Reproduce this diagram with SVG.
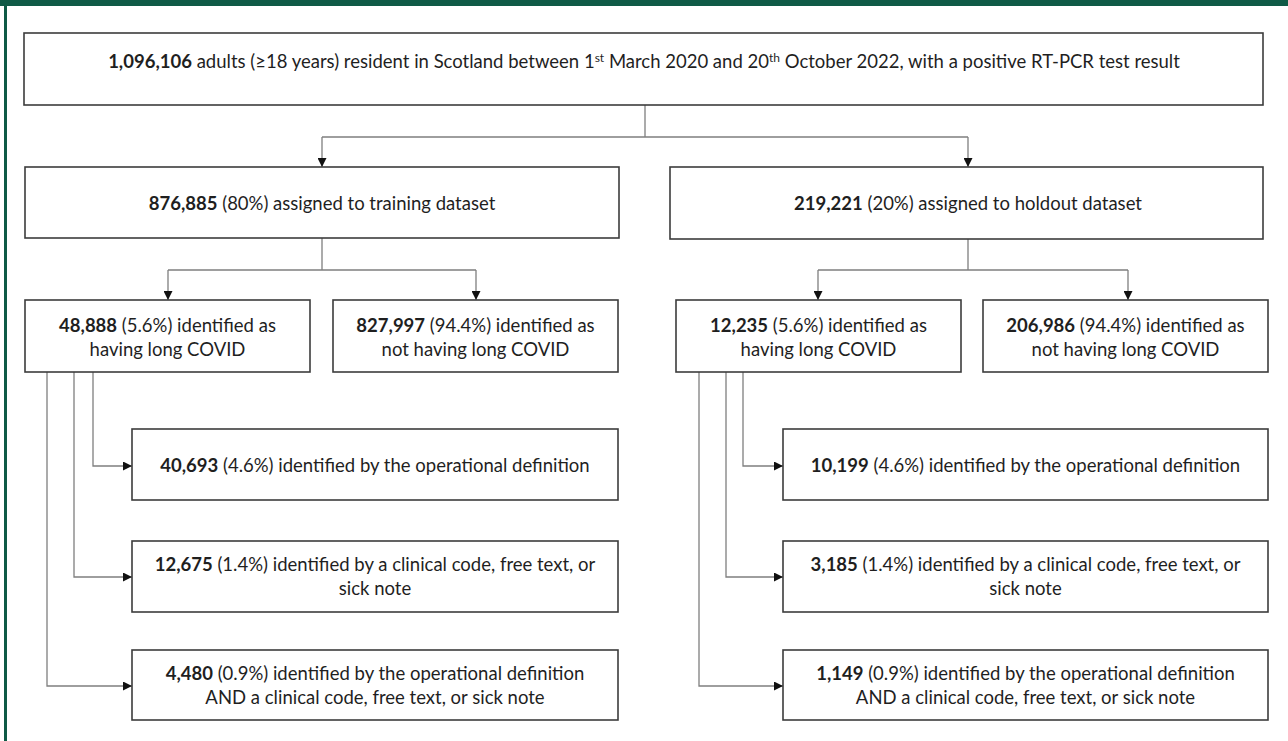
<svg xmlns="http://www.w3.org/2000/svg" width="1288" height="741" viewBox="0 0 1288 741">
<style>
.box{fill:#fff;stroke:#3c3c3c;stroke-width:1.6}
.t{font-family:Lato,"Open Sans","Liberation Sans",sans-serif;font-size:18.5px;fill:#1f1f1f;text-anchor:middle}
.b{font-weight:bold}
.c{fill:none;stroke:#7f7f7f;stroke-width:1.3}
</style>
<defs>
<marker id="ah" viewBox="0 0 10 10" refX="10" refY="5" markerWidth="9" markerHeight="9" markerUnits="userSpaceOnUse" orient="auto">
<path d="M0,0 L10,5 L0,10 z" fill="#111"/>
</marker>
</defs>
<rect x="0" y="0" width="1288" height="741" fill="#fff"/>
<rect x="0" y="0" width="1288" height="6" fill="#0f5a46"/>
<rect x="4" y="0" width="3" height="741" fill="#0f5a46"/>

<g id="connectors">
<path class="c" d="M645,105 V137 M322,137 H968"/>
<path class="c" d="M322,137 V167" marker-end="url(#ah)"/>
<path class="c" d="M968,137 V167" marker-end="url(#ah)"/>
<path class="c" d="M322,238 V270 M168,270 H476"/>
<path class="c" d="M168,270 V300" marker-end="url(#ah)"/>
<path class="c" d="M476,270 V300" marker-end="url(#ah)"/>
<path class="c" d="M968,239 V270 M818,270 H1128"/>
<path class="c" d="M818,270 V300" marker-end="url(#ah)"/>
<path class="c" d="M1128,270 V300" marker-end="url(#ah)"/>
<path class="c" d="M93,372 V466 H132" marker-end="url(#ah)"/>
<path class="c" d="M74,372 V577 H132" marker-end="url(#ah)"/>
<path class="c" d="M47,372 V686 H132" marker-end="url(#ah)"/>
<path class="c" d="M743,372 V466 H783" marker-end="url(#ah)"/>
<path class="c" d="M726,372 V577 H783" marker-end="url(#ah)"/>
<path class="c" d="M699,372 V686 H783" marker-end="url(#ah)"/>
</g>

<g id="n-all">
<rect class="box" x="24" y="33" width="1239" height="72"/>
<text class="t" x="644" y="68"><tspan class="b">1,096,106</tspan> adults (≥18 years) resident in Scotland between 1<tspan font-size="12" dy="-6">st</tspan><tspan dy="6"> March 2020 and 20</tspan><tspan font-size="12" dy="-6">th</tspan><tspan dy="6"> October 2022, with a positive RT-PCR test result</tspan></text>
</g>

<g id="n-training">
<rect class="box" x="25" y="167" width="594" height="71"/>
<text class="t" x="322" y="210"><tspan class="b">876,885</tspan> (80%) assigned to training dataset</text>
</g>

<g id="n-holdout">
<rect class="box" x="670" y="167" width="593" height="72"/>
<text class="t" x="968" y="210"><tspan class="b">219,221</tspan> (20%) assigned to holdout dataset</text>
</g>

<g id="n-train-long">
<rect class="box" x="25" y="300" width="285" height="72"/>
<text class="t" x="167.5" y="332"><tspan class="b">48,888</tspan> (5.6%) identified as</text>
<text class="t" x="167.5" y="356">having long COVID</text>
</g>

<g id="n-train-not">
<rect class="box" x="333" y="300" width="285" height="72"/>
<text class="t" x="475.5" y="332"><tspan class="b">827,997</tspan> (94.4%) identified as</text>
<text class="t" x="475.5" y="356">not having long COVID</text>
</g>

<g id="n-hold-long">
<rect class="box" x="676" y="300" width="285" height="72"/>
<text class="t" x="818.5" y="332"><tspan class="b">12,235</tspan> (5.6%) identified as</text>
<text class="t" x="818.5" y="356">having long COVID</text>
</g>

<g id="n-hold-not">
<rect class="box" x="983" y="300" width="285" height="72"/>
<text class="t" x="1125.5" y="332"><tspan class="b">206,986</tspan> (94.4%) identified as</text>
<text class="t" x="1125.5" y="356">not having long COVID</text>
</g>

<g id="n-train-op">
<rect class="box" x="132" y="429" width="486" height="71"/>
<text class="t" x="375" y="472"><tspan class="b">40,693</tspan> (4.6%) identified by the operational definition</text>
</g>

<g id="n-train-code">
<rect class="box" x="132" y="541" width="486" height="71"/>
<text class="t" x="375" y="571"><tspan class="b">12,675</tspan> (1.4%) identified by a clinical code, free text, or</text>
<text class="t" x="375" y="595">sick note</text>
</g>

<g id="n-train-both">
<rect class="box" x="132" y="650" width="486" height="70"/>
<text class="t" x="375" y="680"><tspan class="b">4,480</tspan> (0.9%) identified by the operational definition</text>
<text class="t" x="375" y="704">AND a clinical code, free text, or sick note</text>
</g>

<g id="n-hold-op">
<rect class="box" x="783" y="429" width="485" height="71"/>
<text class="t" x="1025.5" y="472"><tspan class="b">10,199</tspan> (4.6%) identified by the operational definition</text>
</g>

<g id="n-hold-code">
<rect class="box" x="783" y="541" width="485" height="71"/>
<text class="t" x="1025.5" y="571"><tspan class="b">3,185</tspan> (1.4%) identified by a clinical code, free text, or</text>
<text class="t" x="1025.5" y="595">sick note</text>
</g>

<g id="n-hold-both">
<rect class="box" x="783" y="650" width="485" height="70"/>
<text class="t" x="1025.5" y="680"><tspan class="b">1,149</tspan> (0.9%) identified by the operational definition</text>
<text class="t" x="1025.5" y="704">AND a clinical code, free text, or sick note</text>
</g>
</svg>
